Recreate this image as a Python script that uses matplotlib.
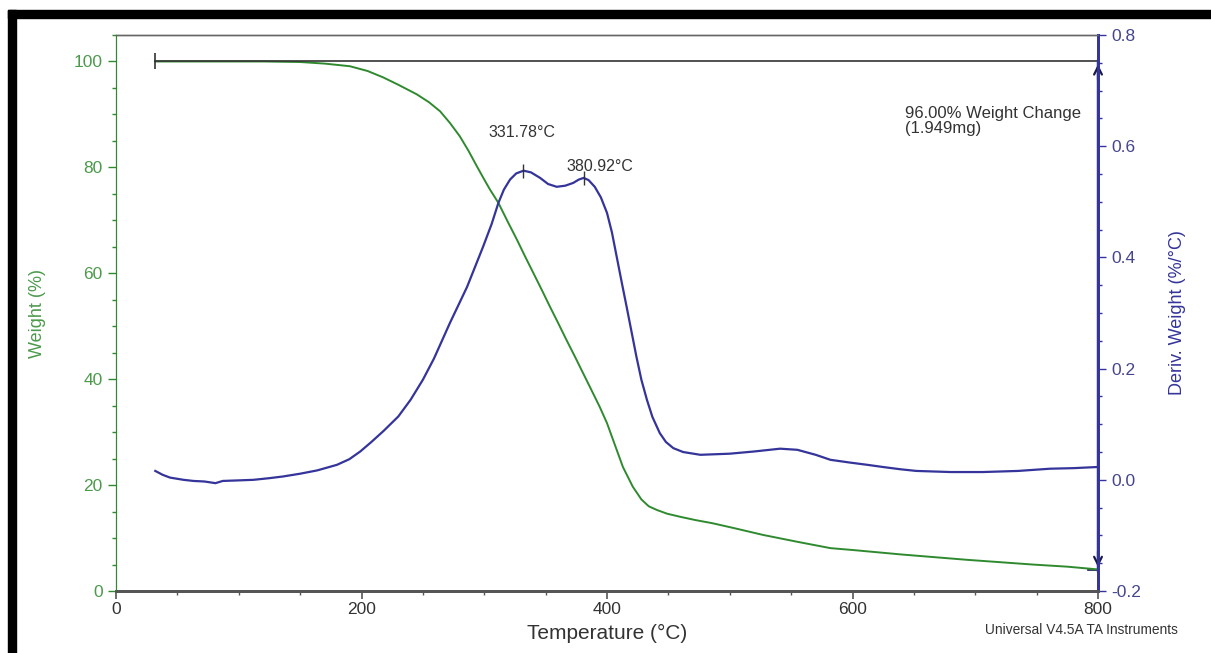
import matplotlib
matplotlib.use("Agg")
import matplotlib.pyplot as plt
from matplotlib.patches import Rectangle
from matplotlib.ticker import MultipleLocator

plt.rcParams['font.family'] = ['Liberation Sans', 'DejaVu Sans']

# Weight curve (green)
temp_w = [32, 80, 120, 150, 170, 190.6, 205, 217.6, 230, 245, 255, 264, 272, 280,
          287, 294, 300, 304.7, 311.5, 319, 326.5, 333, 339.9, 347, 353.5, 360,
          367, 374, 380.6, 387, 394, 400, 405, 413, 421, 428, 434, 440.7, 449,
          460, 472, 486, 505, 527, 555, 582, 600, 640, 693, 747, 775, 799]
weight = [100, 100, 100, 99.9, 99.6, 99.1, 98.2, 97.0, 95.6, 93.8, 92.3, 90.6, 88.4, 85.9,
          83.2, 80.2, 77.7, 75.8, 73.3, 69.8, 66.4, 63.3, 60.1, 56.8, 53.7, 50.7,
          47.4, 44.2, 41.1, 38.1, 34.8, 31.7, 28.5, 23.4, 19.7, 17.3, 16.0, 15.3, 14.6,
          14.0, 13.4, 12.8, 11.8, 10.6, 9.3, 8.1, 7.75, 6.9, 5.9, 5.0, 4.6, 4.1]

# Derivative weight curve (blue)
temp_d = [32, 38, 44, 55, 63, 72, 81, 87, 100, 112, 125, 136, 150, 164, 180, 190,
          199, 208, 218, 230, 240, 250, 259, 272, 286, 299, 306, 311.5, 316, 321,
          326, 332, 338, 345.5, 352, 359, 366, 372.5, 377, 381, 385, 390, 395, 400,
          404, 408, 412, 416, 420, 424, 428, 432.5, 437, 443, 448, 454, 462, 476,
          500, 520, 541, 555, 570, 582, 598, 612, 625, 639, 652, 680, 706, 735,
          761, 780, 799]
deriv = [0.016, 0.009, 0.004, 0.000, -0.002, -0.003, -0.006, -0.002, -0.001, 0.000, 0.003,
         0.006, 0.011, 0.017, 0.027, 0.037, 0.051, 0.068, 0.088, 0.114, 0.144, 0.180,
         0.218, 0.282, 0.347, 0.419, 0.460, 0.498, 0.522, 0.540, 0.551, 0.556, 0.553,
         0.543, 0.532, 0.527, 0.529, 0.534, 0.540, 0.543, 0.539, 0.527, 0.508, 0.480,
         0.445, 0.400, 0.355, 0.311, 0.266, 0.221, 0.180, 0.144, 0.113, 0.084, 0.068,
         0.057, 0.050, 0.045, 0.047, 0.051, 0.056, 0.054, 0.045, 0.036, 0.031, 0.027,
         0.023, 0.019, 0.016, 0.014, 0.014, 0.016, 0.020, 0.021, 0.023]

peak_temps = [331.78, 380.92]
peak_vals = [0.556, 0.543]
peak_labels = ['331.78°C', '380.92°C']

change_start = 32
change_end = 800
weight_top = 100.0
weight_bottom = 4.0
change_text = '96.00% Weight Change\n(1.949mg)'

green = '#2f8a2f'
green_txt = '#4c9a4c'
blue = '#34349a'
blue_txt = '#45458f'
gray = '#555555'

fig = plt.figure(figsize=(12.11, 6.53), dpi=100)
ax = fig.add_axes([0.0958, 0.0949, 0.8109, 0.8515])
ax2 = ax.twinx()

ax.plot(temp_w, weight, color=green, lw=1.4, zorder=3)
ax2.plot(temp_d, deriv, color=blue, lw=1.6, zorder=3)

ax.set_xlim(0, 800)
ax.set_ylim(0, 105)
ax2.set_ylim(-0.2, 0.8)

ax.xaxis.set_major_locator(MultipleLocator(200))
ax.xaxis.set_minor_locator(MultipleLocator(50))
ax.yaxis.set_major_locator(MultipleLocator(20))
ax.yaxis.set_minor_locator(MultipleLocator(5))
ax2.yaxis.set_major_locator(MultipleLocator(0.2))
ax2.yaxis.set_minor_locator(MultipleLocator(0.05))
ax2.yaxis.set_major_formatter(plt.FuncFormatter(lambda v, p: f'{v:.1f}'))

ax.tick_params(axis='x', which='major', length=6, width=1.2, color=gray,
               labelsize=12.5, labelcolor='#333333', pad=2)
ax.tick_params(axis='x', which='minor', length=3, width=1.0, color=gray)
ax.tick_params(axis='y', which='major', length=6, width=1.0, color=green,
               labelsize=12.5, labelcolor=green_txt)
ax.tick_params(axis='y', which='minor', length=3, width=1.0, color=green)
ax2.tick_params(axis='y', which='major', length=6, width=1.0, color=blue,
                labelsize=12.5, labelcolor=blue_txt)
ax2.tick_params(axis='y', which='minor', length=3, width=1.0, color=blue)

for a in (ax, ax2):
    a.spines['bottom'].set_color(gray)
    a.spines['bottom'].set_linewidth(2)
    a.spines['top'].set_color('#666666')
    a.spines['top'].set_linewidth(1)
    a.spines['left'].set_color(green)
    a.spines['right'].set_color(blue)
    a.spines['right'].set_linewidth(2)

ax.set_xlabel('Temperature (°C)', fontsize=15, color='#333333', labelpad=5)
ax.set_ylabel('Weight (%)', fontsize=13, color=green_txt, labelpad=20)
ax2.set_ylabel('Deriv. Weight (%/°C)', fontsize=13, color=blue, labelpad=20)

# weight change marker
ax.plot([change_start, change_end], [weight_top, weight_top], color='#333333', lw=1.2, zorder=4)
ax.plot([change_start], [weight_top], marker='|', ms=12, mew=1.2, color='#333333', zorder=4)
ax.plot([change_end, change_end], [weight_top, weight_bottom], color=blue, lw=2.5, zorder=4)
ax.annotate('', xy=(change_end, weight_top), xytext=(change_end, weight_top - 4),
            arrowprops=dict(arrowstyle='->', color='#1a1a4a', lw=1.6, mutation_scale=14),
            zorder=5, annotation_clip=False)
ax.annotate('', xy=(change_end, weight_bottom), xytext=(change_end, weight_bottom + 4),
            arrowprops=dict(arrowstyle='->', color='#1a1a4a', lw=1.6, mutation_scale=14),
            zorder=5, annotation_clip=False)
ax.plot([change_end - 8, change_end + 1], [weight_bottom, weight_bottom], color='#1a1a4a', lw=1.2)
ax.text(643, 91.6, change_text, fontsize=12, color='#333333', va='top', ha='left',
        linespacing=1.0)

# peak markers
for t, v in zip(peak_temps, peak_vals):
    ax2.plot([t], [v], marker='|', ms=10, mew=1.0, color='#333333', zorder=4)
ax2.text(331, 0.625, peak_labels[0], fontsize=11.5, color='#333333', ha='center', va='center')
ax2.text(367, 0.563, peak_labels[1], fontsize=11.5, color='#333333', ha='left', va='center')

fig.text(0.8135, 0.035, 'Universal V4.5A TA Instruments', fontsize=9.9, color='#333333',
         ha='left', va='center')

# black border bands of the scanned picture
fig.patches.append(Rectangle((8 / 1211, 635 / 653 - 0.0005), 1, 8 / 653, transform=fig.transFigure,
                             color='black', zorder=10))
fig.patches.append(Rectangle((8 / 1211, 0), 8 / 1211, 643 / 653, transform=fig.transFigure,
                             color='black', zorder=10))

fig.savefig('out.png', dpi=100)
